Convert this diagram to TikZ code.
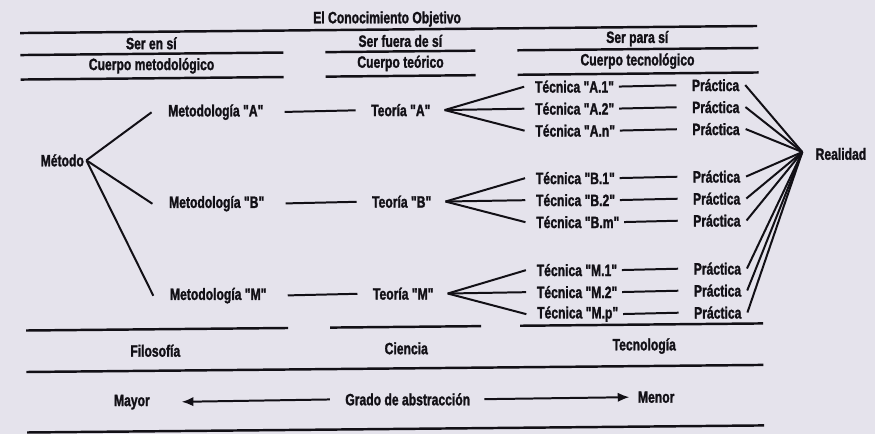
\documentclass[tikz,border=0pt]{standalone}
\usepackage{fontspec}
\setmainfont{Liberation Sans}[FakeStretch=0.74, Ligatures=TeXOff, BoldFeatures={FakeBold=1.5}]
\usetikzlibrary{arrows.meta}
\definecolor{paper}{RGB}{229,227,236}
\definecolor{ink}{RGB}{18,16,22}
\begin{document}
\begin{tikzpicture}[x=0.03cm,y=-0.03cm,
  lbl/.style={font=\fontsize{14}{16}\selectfont\bfseries, inner sep=0pt, text=ink},
  lblw/.style={lbl, anchor=west},
  rule/.style={line width=2.1pt, draw=ink},
  conn/.style={line width=1.7pt, draw=ink},
  arr/.style={conn, -{Latex[length=10pt,width=8pt]}}]
\fill[paper] (0,0) rectangle (875,434);
\useasboundingbox (0,0) rectangle (875,434);
\begin{scope}[rotate around={0.55:(390,217)}]
% header
\node[lbl] (title) at (389,19) {El Conocimiento Objetivo};
\draw[rule] (22,29.5) -- (759,29.5);
\node[lbl] (s1) at (153,41) {Ser en sí};
\node[lbl] (s2) at (402,41) {Ser fuera de sí};
\node[lbl] (s3) at (639,41) {Ser para sí};
\draw[rule] (22,51.5) -- (285,51.5);
\draw[rule] (327,51.5) -- (477,51.5);
\draw[rule] (519,51.5) -- (760,51.5);
\node[lbl] (c1) at (153,63.5) {Cuerpo metodológico};
\node[lbl] (c2) at (402,63.5) {Cuerpo teórico};
\node[lbl] (c3) at (639,63.5) {Cuerpo tecnológico};
\draw[rule] (22,76) -- (285,76);
\draw[rule] (327,76) -- (477,76);
\draw[rule] (519,76) -- (760,76);
% nodes
\node[lblw] (metodo) at (41,157) {Método};
\node[lblw] (realidad) at (816,158) {Realidad};
\coordinate (conv) at (803,156);
\foreach \r/\y/\ya/\yb/\yc/\ta/\tb/\tc in {A/110/88/110/132/A.1/A.2/A.n, B/201.5/179.5/201.5/223.5/B.1/B.2/B.m, M/293.5/271.5/293.5/315.5/M.1/M.2/M.p}{
  \node[lblw] (met\r) at (169,\y) {Metodología "\r"};
  \node[lblw] (teo\r) at (372,\y) {Teoría "\r"};
  \node[lblw] (tec\r1) at (536,\ya) {Técnica "\ta"};
  \node[lblw] (tec\r2) at (536,\yb) {Técnica "\tb"};
  \node[lblw] (tec\r3) at (536,\yc) {Técnica "\tc"};
  \node[lblw] (pra\r1) at (693,\ya) {Práctica};
  \node[lblw] (pra\r2) at (693,\yb) {Práctica};
  \node[lblw] (pra\r3) at (693,\yc) {Práctica};
  \draw[conn] ([xshift=2pt]metodo.east) -- ([xshift=-14pt]met\r.west);
  \draw[conn] ([xshift=18pt]met\r.east) -- ([xshift=-13pt]teo\r.west);
  \foreach \i in {1,2,3}{
    \draw[conn] ([xshift=12pt]teo\r.east) -- ([xshift=-9pt]tec\r\i.west);
    \draw[conn] ([xshift=4pt]tec\r\i.east) -- ([xshift=-13pt]pra\r\i.west);
    \draw[conn] ([xshift=5pt]pra\r\i.east) -- (conv);
  }
}
% bottom
\draw[rule] (25,327) -- (287,327);
\draw[rule] (329,327) -- (480,327);
\draw[rule] (519,327) -- (762,327);
\node[lbl] (filo) at (154,348.5) {Filosofía};
\node[lbl] (ciencia) at (405,348.5) {Ciencia};
\node[lbl] (tecno) at (643,348.5) {Tecnología};
\draw[rule] (25,368.5) -- (762,368.5);
\node[lblw] (mayor) at (112,399.5) {Mayor};
\node[lbl] (grado) at (406,399.5) {Grado de abstracción};
\node[lblw] (menor) at (636,399.5) {Menor};
\draw[arr] ([xshift=-13pt]grado.west) -- ([xshift=27pt]mayor.east);
\draw[arr] ([xshift=12pt]grado.east) -- ([xshift=-7pt]menor.west);
\draw[rule] (25,429) -- (762,429);
\end{scope}
\end{tikzpicture}
\end{document}
